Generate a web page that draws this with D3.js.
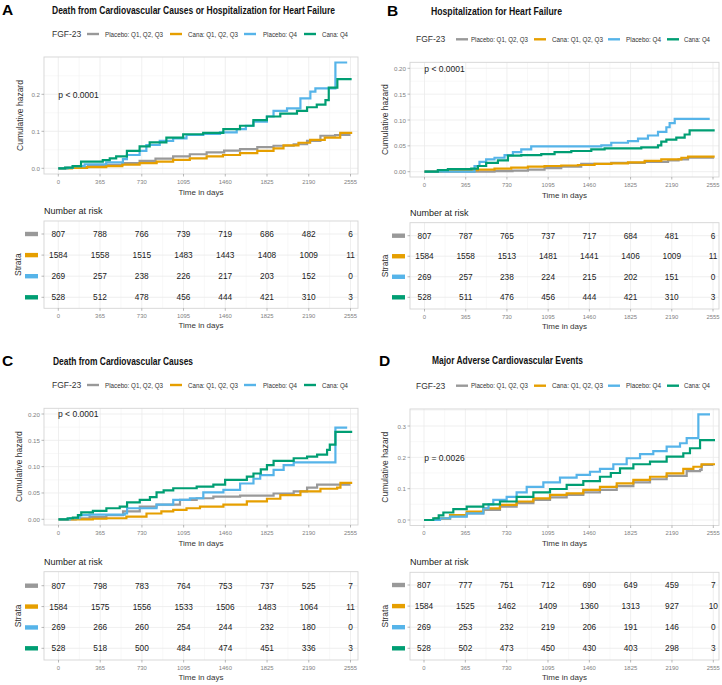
<!DOCTYPE html>
<html><head><meta charset="utf-8">
<script src="https://cdn.jsdelivr.net/npm/d3@7"></script>
<style>body{margin:0;background:#fff} svg{display:block}</style>
</head><body>
<svg id="c" width="722" height="685"></svg>
<script>
// ---------------- DATA ----------------
const strata = ["Placebo: Q1, Q2, Q3", "Cana: Q1, Q2, Q3", "Placebo: Q4", "Cana: Q4"];
const strataColors = ["#999999", "#E69F00", "#56B4E9", "#009E73"];
const legendTitle = "FGF-23";
const timeTicks = [0, 365, 730, 1095, 1460, 1825, 2190, 2555];
const panelLetters = ["A", "B", "C", "D"];
const panelTitles = [
  "Death from Cardiovascular Causes or Hospitalization for Heart Failure",
  "Hospitalization for Heart Failure",
  "Death from Cardiovascular Causes",
  "Major Adverse Cardiovascular Events"
];
const pValues = ["p < 0.0001", "p < 0.0001", "p < 0.0001", "p = 0.0026"];
const yTicksA = [0, 0.1, 0.2];
const yTicksB = [0, 0.05, 0.10, 0.15, 0.20];
const yTicksC = [0, 0.05, 0.10, 0.15, 0.20];
const yTicksD = [0, 0.1, 0.2, 0.3];

const riskA = [[807,788,766,739,719,686,482,6],[1584,1558,1515,1483,1443,1408,1009,11],[269,257,238,226,217,203,152,0],[528,512,478,456,444,421,310,3]];
const riskB = [[807,787,765,737,717,684,481,6],[1584,1558,1513,1481,1441,1406,1009,11],[269,257,238,224,215,202,151,0],[528,511,476,456,444,421,310,3]];
const riskC = [[807,798,783,764,753,737,525,7],[1584,1575,1556,1533,1506,1483,1064,11],[269,266,260,254,244,232,180,0],[528,518,500,484,474,451,336,3]];
const riskD = [[807,777,751,712,690,649,459,7],[1584,1525,1462,1409,1360,1313,927,10],[269,253,232,219,206,191,146,0],[528,502,473,450,430,403,298,3]];

// cumulative hazard step points [day, value]
const hazA_pbo123 = [[0,0],[60,0.001],[150,0.003],[260,0.006],[419,0.009],[560,0.014],[711,0.020],[850,0.026],[1004,0.032],[1150,0.038],[1297,0.043],[1450,0.048],[1589,0.052],[1740,0.057],[1882,0.061],[2058,0.065],[2175,0.074],[2292,0.088],[2420,0.090],[2555,0.090]];
const hazA_cana123 = [[0,0],[120,0.001],[250,0.003],[419,0.006],[560,0.010],[711,0.014],[860,0.018],[1004,0.023],[1150,0.027],[1297,0.032],[1440,0.036],[1589,0.041],[1740,0.047],[1882,0.054],[1969,0.062],[2100,0.069],[2202,0.077],[2330,0.083],[2465,0.096],[2570,0.096]];
const hazA_pboQ4 = [[0,0],[80,0.001],[126,0.006],[230,0.011],[419,0.016],[565,0.025],[600,0.036],[711,0.047],[770,0.063],[887,0.074],[1004,0.081],[1121,0.090],[1267,0.093],[1414,0.097],[1560,0.106],[1640,0.115],[1706,0.126],[1824,0.140],[1882,0.155],[2000,0.162],[2117,0.189],[2204,0.207],[2248,0.216],[2423,0.286],[2526,0.286]];
const hazA_canaQ4 = [[0,0],[60,0.002],[126,0.006],[199,0.018],[389,0.022],[450,0.027],[506,0.032],[600,0.047],[711,0.059],[799,0.070],[945,0.083],[1092,0.092],[1267,0.096],[1443,0.106],[1589,0.115],[1706,0.130],[1824,0.140],[1941,0.148],[2087,0.155],[2175,0.165],[2260,0.172],[2336,0.184],[2365,0.218],[2440,0.241],[2565,0.241]];

const hazB_pbo123 = [[0,0],[620,0.001],[780,0.002],[916,0.004],[1063,0.007],[1211,0.010],[1388,0.015],[1654,0.017],[1950,0.019],[2157,0.022],[2250,0.024],[2334,0.027],[2555,0.028]];
const hazB_cana123 = [[0,0],[150,0.001],[300,0.003],[473,0.004],[620,0.006],[768,0.008],[916,0.010],[1063,0.011],[1211,0.012],[1359,0.013],[1506,0.015],[1654,0.016],[1802,0.018],[1950,0.021],[2097,0.024],[2275,0.027],[2334,0.029],[2570,0.029]];
const hazB_pboQ4 = [[0,0],[443,0.011],[487,0.019],[546,0.024],[620,0.027],[709,0.032],[783,0.038],[857,0.043],[945,0.049],[1566,0.051],[1654,0.056],[1802,0.059],[1891,0.064],[1979,0.070],[2068,0.077],[2142,0.086],[2171,0.094],[2216,0.102],[2526,0.102]];
const hazB_canaQ4 = [[0,0],[118,0.003],[207,0.005],[414,0.006],[473,0.011],[546,0.017],[650,0.022],[739,0.031],[857,0.032],[1034,0.034],[1152,0.038],[1300,0.040],[1477,0.043],[1595,0.045],[1920,0.047],[2068,0.051],[2097,0.058],[2142,0.062],[2230,0.066],[2304,0.072],[2348,0.080],[2570,0.080]];

const hazC_pbo123 = [[0,0],[150,0.002],[272,0.004],[419,0.008],[565,0.015],[711,0.024],[858,0.028],[1063,0.037],[1209,0.040],[1355,0.043],[1589,0.045],[1882,0.049],[2058,0.053],[2175,0.060],[2263,0.066],[2555,0.066]];
const hazC_cana123 = [[0,0],[300,0.001],[419,0.002],[594,0.005],[770,0.011],[900,0.015],[1004,0.018],[1120,0.021],[1238,0.024],[1443,0.028],[1648,0.034],[1824,0.039],[1941,0.046],[2117,0.053],[2292,0.058],[2438,0.060],[2467,0.069],[2570,0.069]];
const hazC_pboQ4 = [[0,0],[100,0.002],[184,0.008],[272,0.009],[580,0.011],[600,0.021],[858,0.028],[1004,0.037],[1150,0.040],[1267,0.051],[1443,0.056],[1589,0.068],[1706,0.077],[1765,0.084],[1882,0.094],[1970,0.103],[2058,0.108],[2423,0.174],[2526,0.174]];
const hazC_canaQ4 = [[0,0],[80,0.002],[126,0.003],[170,0.008],[199,0.013],[301,0.016],[419,0.021],[536,0.024],[600,0.032],[711,0.037],[800,0.042],[858,0.051],[920,0.055],[1004,0.059],[1209,0.062],[1355,0.066],[1458,0.075],[1648,0.081],[1706,0.087],[1770,0.095],[1824,0.103],[1882,0.111],[2058,0.116],[2175,0.119],[2263,0.123],[2350,0.132],[2374,0.142],[2423,0.166],[2570,0.166]];

const hazD_pbo123 = [[0,0],[100,0.004],[230,0.012],[377,0.021],[524,0.032],[671,0.043],[818,0.054],[966,0.064],[1113,0.072],[1260,0.080],[1407,0.088],[1554,0.096],[1702,0.108],[1849,0.120],[1996,0.130],[2143,0.141],[2320,0.156],[2438,0.160],[2452,0.176],[2555,0.176]];
const hazD_cana123 = [[0,0],[100,0.005],[230,0.016],[377,0.027],[524,0.037],[671,0.048],[818,0.059],[966,0.069],[1113,0.080],[1260,0.085],[1407,0.096],[1554,0.106],[1702,0.117],[1849,0.128],[1996,0.138],[2143,0.149],[2290,0.163],[2379,0.170],[2452,0.178],[2570,0.178]];
const hazD_pboQ4 = [[0,0],[141,0.005],[230,0.011],[377,0.021],[524,0.037],[570,0.050],[612,0.064],[730,0.074],[818,0.088],[907,0.106],[1054,0.120],[1201,0.135],[1348,0.144],[1466,0.154],[1554,0.163],[1672,0.178],[1790,0.197],[1908,0.210],[2025,0.220],[2143,0.234],[2261,0.245],[2320,0.261],[2423,0.337],[2526,0.337]];
const hazD_canaQ4 = [[0,0],[82,0.005],[130,0.015],[171,0.024],[259,0.035],[377,0.043],[524,0.050],[671,0.059],[818,0.074],[966,0.088],[1113,0.099],[1260,0.112],[1407,0.124],[1554,0.138],[1650,0.150],[1731,0.165],[1849,0.178],[1996,0.186],[2143,0.202],[2290,0.213],[2349,0.229],[2438,0.255],[2570,0.255]];

// ---------------- LAYOUT ----------------
const FONT = "'Liberation Sans', Arial, sans-serif";
const NARROW = "'Liberation Sans Narrow', 'Liberation Sans', Arial, sans-serif";
const layouts = [
  {letter:[2,14.5], title:[52,13.8,283], legY:34, fgfX:52, lineX:[87,170,244,304], textX:[105,188,263,322], textW:[58,50,34,26],
   box:[44,358,57,174], xr:[58.3,350.5], yref:[168.3,0.2,94.3], ylabX:19.5, fmt:".1f", pv:[58.3,98],
   nar:[44,210.7], tbox:[44,358,221,308.3], rows:[234,297.3], swX:25, strX:18.3},
  {letter:[387,15.5], title:[431,15,131], legY:39.3, fgfX:416, lineX:[456,534,608,667], textX:[471,552,626,684], textW:[57,51,35,26],
   box:[410,719,62.3,177], xr:[424.5,713], yref:[171.7,0.2,68.3], ylabX:385, fmt:".2f", pv:[424.3,72.3],
   nar:[410,212.7], tbox:[410,719,222.7,309], rows:[235.7,297.3], swX:392, strX:385},
  {letter:[2,366], title:[53,365,140], legY:385, fgfX:52, lineX:[87,170,244,304], textX:[105,188,263,322], textW:[58,50,34,26],
   box:[44,358,408.3,525], xr:[58.5,350.5], yref:[519.3,0.2,414], ylabX:19.5, fmt:".2f", pv:[58,417],
   nar:[44,561.7], tbox:[44,358,571.7,660], rows:[585.7,648.3], swX:25, strX:18.3},
  {letter:[379,366], title:[432,364,151], legY:385.7, fgfX:416, lineX:[456,534,608,667], textX:[471,552,626,684], textW:[57,51,35,26],
   box:[410,719,409,525.5], xr:[424,713.3], yref:[520,0.3,426], ylabX:385, fmt:".1f", pv:[424.3,461.3],
   nar:[410,561.7], tbox:[410,719,572.3,660], rows:[585,648.3], swX:392, strX:385}
];
const panelCurves = [
  [hazA_pbo123, hazA_cana123, hazA_pboQ4, hazA_canaQ4],
  [hazB_pbo123, hazB_cana123, hazB_pboQ4, hazB_canaQ4],
  [hazC_pbo123, hazC_cana123, hazC_pboQ4, hazC_canaQ4],
  [hazD_pbo123, hazD_cana123, hazD_pboQ4, hazD_canaQ4]
];
const panelRisk = [riskA, riskB, riskC, riskD];
const panelYTicks = [yTicksA, yTicksB, yTicksC, yTicksD];

const svg = d3.select("#c");
const GRID = "#ebebeb", MINOR = "#f4f4f4", BORDER = "#d4d4d4", TICKC = "#8a8a8a", AXT = "#333", TL = "#7f7f7f";

function text(g, x, y, s, o = {}) {
  const t = g.append("text").attr("x", x).attr("y", y).text(s)
    .attr("font-family", o.family || FONT).attr("font-size", o.size || 8)
    .attr("fill", o.fill || "#222");
  if (o.anchor) t.attr("text-anchor", o.anchor);
  if (o.weight) t.attr("font-weight", o.weight);
  if (o.base) t.attr("dominant-baseline", o.base);
  if (o.len) t.attr("textLength", o.len).attr("lengthAdjust", "spacingAndGlyphs");
  if (o.rot) t.attr("transform", `rotate(-90,${x},${y})`);
  return t;
}

const minorTimes = timeTicks.slice(0, -1).map((t, i) => (t + timeTicks[i + 1]) / 2);

layouts.forEach((L, p) => {
  const g = svg.append("g");
  const [bx0, bx1, by0, by1] = L.box;
  const x = d3.scaleLinear().domain([0, 2555]).range(L.xr);
  const y = d3.scaleLinear().domain([0, L.yref[1]]).range([L.yref[0], L.yref[2]]);
  const yT = panelYTicks[p];
  const step = yT[1] - yT[0];
  const yTop = y.invert(by0);
  const yMinor = yT.map(t => t + step / 2).filter(v => v <= yTop);

  // panel letter & title
  text(g, L.letter[0], L.letter[1], panelLetters[p], {size: 15.5, weight: "bold", fill: "#000"});
  text(g, L.title[0], L.title[1], panelTitles[p], {size: 10, weight: "bold", fill: "#111", family: NARROW, len: L.title[2]});

  // legend
  text(g, L.fgfX, L.legY, legendTitle, {size: 8.5, fill: "#333", base: "central"});
  strata.forEach((s, i) => {
    g.append("line").attr("x1", L.lineX[i]).attr("x2", L.lineX[i] + 12)
      .attr("y1", L.legY).attr("y2", L.legY).attr("stroke", strataColors[i]).attr("stroke-width", 2.4);
    text(g, L.textX[i], L.legY, s, {size: 6.5, fill: "#333", base: "central", len: L.textW[i]});
  });

  // ---- plot panel ----
  g.append("rect").attr("x", bx0).attr("y", by0).attr("width", bx1 - bx0).attr("height", by1 - by0).attr("fill", "#fff");
  minorTimes.forEach(t => g.append("line").attr("x1", x(t)).attr("x2", x(t)).attr("y1", by0).attr("y2", by1).attr("stroke", MINOR).attr("stroke-width", 0.6));
  yMinor.forEach(v => g.append("line").attr("x1", bx0).attr("x2", bx1).attr("y1", y(v)).attr("y2", y(v)).attr("stroke", MINOR).attr("stroke-width", 0.6));
  timeTicks.forEach(t => g.append("line").attr("x1", x(t)).attr("x2", x(t)).attr("y1", by0).attr("y2", by1).attr("stroke", GRID).attr("stroke-width", 0.8));
  yT.forEach(v => g.append("line").attr("x1", bx0).attr("x2", bx1).attr("y1", y(v)).attr("y2", y(v)).attr("stroke", GRID).attr("stroke-width", 0.8));

  const line = d3.line().x(d => x(d[0])).y(d => y(d[1])).curve(d3.curveStepAfter);
  panelCurves[p].forEach((c, i) => {
    g.append("path").datum(c).attr("d", line).attr("fill", "none")
      .attr("stroke", strataColors[i]).attr("stroke-width", 2.2).attr("stroke-linejoin", "miter");
  });
  g.append("rect").attr("x", bx0).attr("y", by0).attr("width", bx1 - bx0).attr("height", by1 - by0)
    .attr("fill", "none").attr("stroke", BORDER).attr("stroke-width", 0.9);

  // y axis
  const fmt = d3.format(L.fmt);
  yT.forEach(v => {
    g.append("line").attr("x1", bx0 - 2.5).attr("x2", bx0).attr("y1", y(v)).attr("y2", y(v)).attr("stroke", TICKC).attr("stroke-width", 0.6);
    text(g, bx0 - 4, y(v), fmt(v), {size: 6.2, fill: TL, anchor: "end", base: "central"});
  });
  text(g, L.ylabX, (by0 + by1) / 2, "Cumulative hazard", {size: 8.5, fill: AXT, anchor: "middle", base: "central", rot: true});
  // x axis
  timeTicks.forEach(t => {
    g.append("line").attr("x1", x(t)).attr("x2", x(t)).attr("y1", by1).attr("y2", by1 + 2.5).attr("stroke", TICKC).attr("stroke-width", 0.6);
    text(g, x(t), by1 + 7.5, String(t), {size: 5.9, fill: TL, anchor: "middle", base: "central"});
  });
  text(g, (bx0 + bx1) / 2, by1 + 18, "Time in days", {size: 8, fill: AXT, anchor: "middle", base: "central"});

  // p value
  text(g, L.pv[0], L.pv[1], pValues[p], {size: 8.5, fill: "#222"});

  // ---- risk table ----
  const [tx0, tx1, ty0, ty1] = L.tbox;
  text(g, L.nar[0], L.nar[1], "Number at risk", {size: 9, fill: "#222", base: "central"});
  const row = d3.scalePoint().domain(strata).range(L.rows);
  g.append("rect").attr("x", tx0).attr("y", ty0).attr("width", tx1 - tx0).attr("height", ty1 - ty0).attr("fill", "#fff");
  minorTimes.forEach(t => g.append("line").attr("x1", x(t)).attr("x2", x(t)).attr("y1", ty0).attr("y2", ty1).attr("stroke", MINOR).attr("stroke-width", 0.6));
  timeTicks.forEach(t => g.append("line").attr("x1", x(t)).attr("x2", x(t)).attr("y1", ty0).attr("y2", ty1).attr("stroke", GRID).attr("stroke-width", 0.8));
  strata.forEach(s => g.append("line").attr("x1", tx0).attr("x2", tx1).attr("y1", row(s)).attr("y2", row(s)).attr("stroke", GRID).attr("stroke-width", 0.8));
  g.append("rect").attr("x", tx0).attr("y", ty0).attr("width", tx1 - tx0).attr("height", ty1 - ty0)
    .attr("fill", "none").attr("stroke", BORDER).attr("stroke-width", 0.9);
  panelRisk[p].forEach((vals, i) => {
    const ry = row(strata[i]);
    g.append("rect").attr("x", L.swX).attr("y", ry - 2.2).attr("width", 13).attr("height", 4.4).attr("fill", strataColors[i]);
    g.append("line").attr("x1", tx0 - 2.5).attr("x2", tx0).attr("y1", ry).attr("y2", ry).attr("stroke", TICKC).attr("stroke-width", 0.6);
    vals.forEach((v, j) => text(g, x(timeTicks[j]), ry, String(v), {size: 8.3, fill: "#1a1a1a", anchor: "middle", base: "central"}));
  });
  text(g, L.strX, (ty0 + ty1) / 2, "Strata", {size: 8.5, fill: AXT, anchor: "middle", base: "central", rot: true});
  timeTicks.forEach(t => {
    g.append("line").attr("x1", x(t)).attr("x2", x(t)).attr("y1", ty1).attr("y2", ty1 + 2.5).attr("stroke", TICKC).attr("stroke-width", 0.6);
    text(g, x(t), ty1 + 8, String(t), {size: 5.9, fill: TL, anchor: "middle", base: "central"});
  });
  text(g, (tx0 + tx1) / 2, ty1 + 17.5, "Time in days", {size: 8, fill: AXT, anchor: "middle", base: "central"});
});
</script>
</body></html>
